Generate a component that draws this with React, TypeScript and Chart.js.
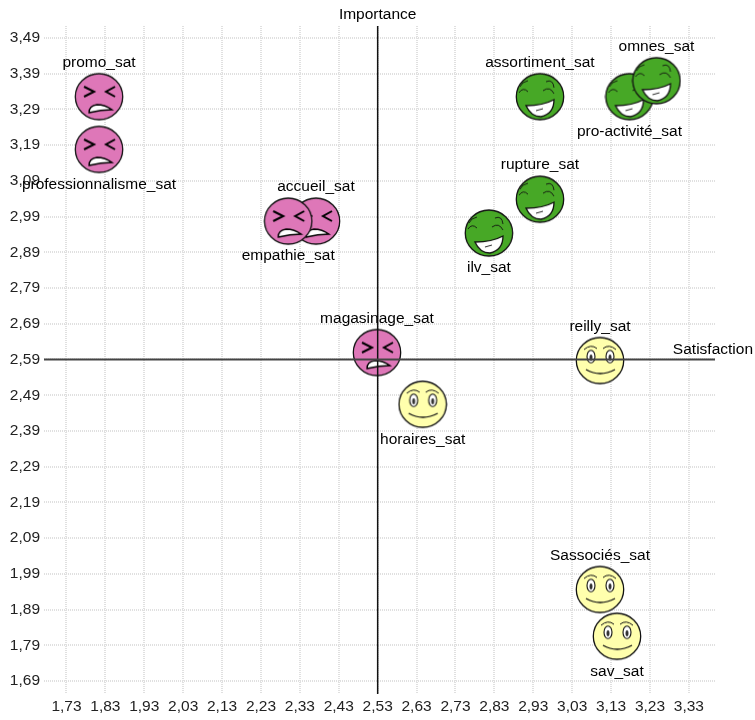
import React, { useEffect, useRef } from "react";
import { Chart, registerables } from "chart.js";

Chart.register(...registerables);

const xTicks = [1.73, 1.83, 1.93, 2.03, 2.13, 2.23, 2.33, 2.43, 2.53, 2.63, 2.73, 2.83, 2.93, 3.03, 3.13, 3.23, 3.33];
const yTicks = [1.69, 1.79, 1.89, 1.99, 2.09, 2.19, 2.29, 2.39, 2.49, 2.59, 2.69, 2.79, 2.89, 2.99, 3.09, 3.19, 3.29, 3.39, 3.49];

const xCross = 2.53;
const yCross = 2.59;
const xTitle = "Satisfaction";
const yTitle = "Importance";

const angryNames = ["promo_sat", "professionnalisme_sat", "accueil_sat", "empathie_sat", "magasinage_sat"];
const angryX = [1.8136, 1.8136, 2.3714, 2.3, 2.5282];
const angryY = [3.3256, 3.178, 2.9773, 2.9773, 2.6095];
const angrySide = ["top", "bottom", "top", "bottom", "top"];

const neutralNames = ["horaires_sat", "reilly_sat", "Sassociés_sat", "sav_sat"];
const neutralX = [2.6457, 3.1015, 3.1015, 3.1452];
const neutralY = [2.4646, 2.5872, 1.9464, 1.8154];
const neutralSide = ["bottom", "top", "top", "bottom"];

const happyNames = ["ilv_sat", "rupture_sat", "assortiment_sat", "pro-activité_sat", "omnes_sat"];
const happyX = [2.816, 2.9472, 2.9472, 3.1773, 3.2467];
const happyY = [2.9439, 3.0386, 3.3256, 3.3256, 3.3702];
const happySide = ["bottom", "top", "top", "bottom", "top"];

const FAMILY = '"Liberation Sans", Arial, sans-serif';
const FONT = `15.5px ${FAMILY}`;
const SIZE = 50;

function base(color: string) {
  const c = document.createElement("canvas");
  c.width = SIZE;
  c.height = SIZE;
  const g = c.getContext("2d")!;
  g.translate(SIZE / 2, SIZE / 2);
  g.fillStyle = color;
  g.strokeStyle = "#111";
  g.lineWidth = 1.3;
  g.beginPath();
  g.ellipse(0, 0, 23.7, 23, 0, 0, Math.PI * 2);
  g.fill();
  g.stroke();
  return { c, g };
}

function angryFace() {
  const { c, g } = base("#de77b8");
  g.lineWidth = 2;
  g.strokeStyle = "#000";
  g.beginPath();
  g.moveTo(-15, -10); g.lineTo(-5, -5); g.lineTo(-15, 0);
  g.moveTo(16, -10); g.lineTo(7, -5); g.lineTo(16, 0);
  g.stroke();
  g.fillStyle = "#fff";
  g.lineWidth = 1.3;
  g.beginPath();
  g.moveTo(-10, 16);
  g.quadraticCurveTo(-10, 9, -2, 8);
  g.quadraticCurveTo(6, 8, 13, 13);
  g.quadraticCurveTo(2, 13, -10, 16);
  g.closePath();
  g.fill();
  g.stroke();
  return c;
}

function neutralFace() {
  const { c, g } = base("#ffffad");
  g.strokeStyle = "#111";
  for (const [s, dx] of [[-1, 9], [1, 10]]) {
    g.lineWidth = 1.1;
    g.fillStyle = "#fff";
    g.beginPath();
    g.ellipse(s * dx, -4, 4, 6.3, 0, 0, Math.PI * 2);
    g.fill();
    g.stroke();
    g.fillStyle = "#333";
    g.beginPath();
    g.ellipse(s * dx, -3, 1.5, 3, 0, 0, Math.PI * 2);
    g.fill();
    g.lineWidth = 1;
    g.beginPath();
    g.moveTo(s * 3, -12);
    g.quadraticCurveTo(s * 9, -17, s * 16, -11);
    g.stroke();
  }
  g.lineWidth = 1.4;
  g.beginPath();
  g.moveTo(-14, 9);
  g.quadraticCurveTo(0, 17, 15, 9);
  g.stroke();
  return c;
}

function happyFace() {
  const { c, g } = base("#47a826");
  g.strokeStyle = "#111";
  g.lineWidth = 0.9;
  g.beginPath();
  g.moveTo(-21, -4);
  g.quadraticCurveTo(-17, -10, -12, -5);
  g.moveTo(-20, -10);
  g.quadraticCurveTo(-18, -15, -12, -16);
  g.moveTo(3, -6);
  g.quadraticCurveTo(10, -11, 14, -3);
  g.moveTo(6, -15);
  g.quadraticCurveTo(13, -18, 14, -9);
  g.stroke();
  g.fillStyle = "#fff";
  g.lineWidth = 1.3;
  g.beginPath();
  g.moveTo(-14, 9);
  g.quadraticCurveTo(3, 9, 14, 3);
  g.quadraticCurveTo(14, 17, 1, 20);
  g.quadraticCurveTo(-9, 20, -14, 9);
  g.closePath();
  g.fill();
  g.stroke();
  g.lineWidth = 0.9;
  g.beginPath();
  g.moveTo(-4, 14);
  g.lineTo(3, 12);
  g.stroke();
  return c;
}

const pts = (xs: number[], ys: number[]) => xs.map((x, i) => ({ x, y: ys[i] }));
const comma = (v: number) => v.toFixed(2).replace(".", ",");

export default function App() {
  const ref = useRef<HTMLCanvasElement>(null);
  useEffect(() => {
    const xMin = 1.6722, xMax = 3.3972, yMin = 1.6538, yMax = 3.5234;
    const names = [angryNames, neutralNames, happyNames];
    const sides = [angrySide, neutralSide, happySide];
    const labelPlugin = {
      id: "faceLabels",
      afterDraw(chart: any) {
        const { ctx, scales } = chart;
        ctx.save();
        ctx.font = FONT;
        ctx.fillStyle = "#000";
        ctx.textAlign = "center";
        ctx.textBaseline = "middle";
        [2, 3, 4].forEach((dsIndex, gi) => {
          chart.getDatasetMeta(dsIndex).data.forEach((el: any, i: number) => {
            ctx.fillText(names[gi][i], el.x, el.y + (sides[gi][i] === "top" ? -34 : 35));
          });
        });
        ctx.fillText(yTitle, scales.x.getPixelForValue(xCross), 15);
        ctx.textAlign = "right";
        ctx.fillText(xTitle, 753, scales.y.getPixelForValue(yCross) - 10);
        ctx.restore();
      },
    };
    const lineDs = (data: any[], color: string, width: number) => ({
      type: "line",
      data,
      borderColor: color,
      borderWidth: width,
      pointRadius: 0,
      fill: false,
    });
    const faceDs = (data: any[], img: HTMLCanvasElement) => ({
      type: "scatter",
      data,
      pointStyle: img,
      pointRadius: 25,
      pointHoverRadius: 25,
      showLine: false,
    });
    const gridOpts = { color: "#e0e0e0", lineWidth: 2, drawTicks: false, tickLength: 0 };
    const borderOpts = { display: false, dash: [1, 1] };
    const tickFont = { family: FAMILY, size: 15.5 };
    const chart = new Chart(ref.current!, {
      type: "scatter",
      data: {
        datasets: [
          lineDs([{ x: xMin, y: yCross }, { x: xMax, y: yCross }], "#444", 1.8),
          lineDs([{ x: xCross, y: yMin }, { x: xCross, y: yMax }], "#111", 1.5),
          faceDs(pts(angryX, angryY), angryFace()),
          faceDs(pts(neutralX, neutralY), neutralFace()),
          faceDs(pts(happyX, happyY), happyFace()),
        ] as any,
      },
      options: {
        animation: false,
        responsive: false,
        events: [],
        layout: { padding: { left: 0, top: 24, right: 40, bottom: 0 } },
        plugins: { legend: { display: false }, tooltip: { enabled: false } },
        scales: {
          x: {
            type: "linear",
            min: xMin,
            max: xMax,
            afterBuildTicks: (s: any) => { s.ticks = xTicks.map((value) => ({ value })); },
            afterFit: (s: any) => { s.height = 25; s.paddingLeft = 0; s.paddingRight = 0; },
            grid: gridOpts,
            border: borderOpts,
            ticks: {
              autoSkip: false,
              maxRotation: 0,
              padding: 3,
              color: "#222",
              font: tickFont,
              callback: (v: any) => comma(Number(v)),
            },
          },
          y: {
            type: "linear",
            min: yMin,
            max: yMax,
            afterBuildTicks: (s: any) => { s.ticks = yTicks.map((value) => ({ value })); },
            afterFit: (s: any) => { s.width = 44; s.paddingTop = 0; s.paddingBottom = 0; },
            grid: gridOpts,
            border: borderOpts,
            ticks: {
              autoSkip: false,
              padding: 4,
              color: "#222",
              font: tickFont,
              callback: (v: any) => comma(Number(v)),
            },
          },
        },
      } as any,
      plugins: [labelPlugin],
    });
    return () => chart.destroy();
  }, []);
  return (
    <canvas
      ref={ref}
      width={755}
      height={720}
      style={{ position: "fixed", left: 0, top: 0, width: 755, height: 720, display: "block" }}
    />
  );
}
